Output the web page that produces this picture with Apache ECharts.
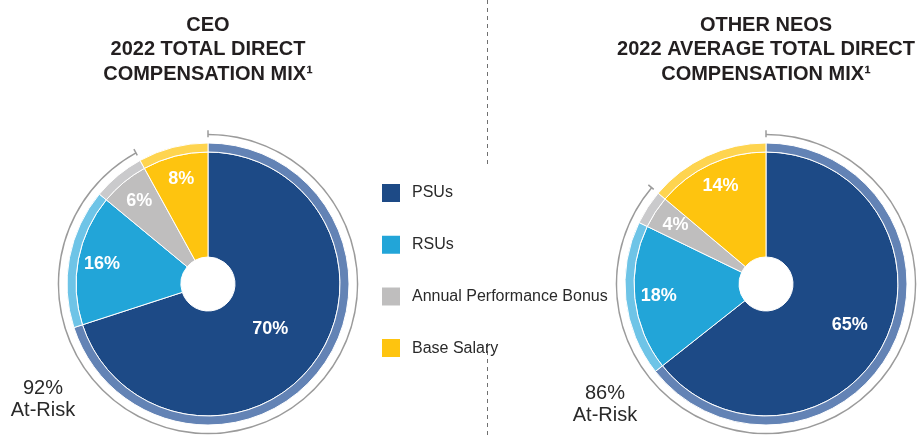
<!DOCTYPE html>
<html>
<head>
<meta charset="utf-8">
<script src="https://cdn.jsdelivr.net/npm/echarts@6/dist/echarts.min.js"></script>
<style>
html,body{margin:0;padding:0;background:#fff;}
#chart{width:920px;height:438px;}
</style>
</head>
<body>
<div id="chart"></div>
<script>
// ---- data ----
const categories = ['PSUs', 'RSUs', 'Annual Performance Bonus', 'Base Salary'];
const ceoValues = [70, 16, 6, 8];
const neoValues = [65, 18, 4, 14];
const atRiskCount = 3; // first three components are at-risk
const ceoTitle = ['CEO', '2022 TOTAL DIRECT', 'COMPENSATION MIX\u00B9'];
const neoTitle = ['OTHER NEOS', '2022 AVERAGE TOTAL DIRECT', 'COMPENSATION MIX\u00B9'];
const atRiskLabels = ['92%', '86%'];
const atRiskCaption = 'At-Risk';

// ---- styles ----
const darkColors = ['#1d4a86', '#22a5d8', '#bfbebe', '#fec40f'];
const lightColors = ['#6383b5', '#6ec4e7', '#cacacc', '#fed44f'];
const TITLE_COLOR = '#231f20';

function sum(a) { return a.reduce((s, v) => s + v, 0); }

function pieSeries(values, center, bigLabelRadius) {
  const main = {
    type: 'pie', center: center, radius: [27, 132], startAngle: 90, clockwise: true,
    silent: true, animation: false,
    itemStyle: { borderColor: '#ffffff', borderWidth: 1 },
    label: { show: false }, labelLine: { show: false },
    emphasis: { disabled: true },
    data: values.map((v, i) => ({ name: categories[i], value: v, itemStyle: { color: darkColors[i] } }))
  };
  const band = {
    type: 'pie', center: center, radius: [132, 141], startAngle: 90, clockwise: true,
    silent: true, animation: false,
    itemStyle: { borderColor: '#ffffff', borderWidth: 1 },
    label: { show: false }, labelLine: { show: false },
    emphasis: { disabled: true },
    data: values.map((v, i) => ({ name: categories[i], value: v, itemStyle: { color: lightColors[i] } }))
  };
  const lblStyle = { color: '#ffffff', fontSize: 18, fontWeight: 'bold', fontFamily: 'Liberation Sans, Arial, sans-serif',
    formatter: p => p.value + '%' };
  const bigLbl = {
    type: 'pie', center: center, radius: bigLabelRadius, startAngle: 90, clockwise: true,
    silent: true, animation: false, z: 5,
    itemStyle: { color: 'rgba(0,0,0,0)', borderWidth: 0 },
    labelLine: { show: false }, emphasis: { disabled: true },
    data: values.map((v, i) => ({ name: categories[i], value: v,
      itemStyle: { color: 'rgba(0,0,0,0)' },
      label: Object.assign({ show: i === 0, position: 'inside' }, lblStyle) }))
  };
  const smallLbl = {
    type: 'pie', center: center, radius: [78, 132], startAngle: 90, clockwise: true,
    silent: true, animation: false, z: 5,
    itemStyle: { color: 'rgba(0,0,0,0)', borderWidth: 0 },
    labelLine: { show: false }, emphasis: { disabled: true },
    data: values.map((v, i) => ({ name: categories[i], value: v,
      itemStyle: { color: 'rgba(0,0,0,0)' },
      label: Object.assign({ show: i !== 0, position: 'inside' }, lblStyle) }))
  };
  const frac = sum(values.slice(0, atRiskCount)) / sum(values);
  const arc = {
    type: 'gauge', center: center, radius: 150.3, startAngle: 90, endAngle: 90 - 360 * frac,
    clockwise: true, min: 0, max: 100, splitNumber: 1, silent: true, animation: false,
    axisLine: { show: true, roundCap: false, lineStyle: { width: 1.5, color: [[1, '#9b9b9b']] } },
    splitLine: { show: true, length: 7, distance: -5, lineStyle: { width: 1.5, color: '#9b9b9b' } },
    axisTick: { show: false }, axisLabel: { show: false },
    pointer: { show: false }, anchor: { show: false }, progress: { show: false },
    title: { show: false }, detail: { show: false },
    data: [{ value: 0, name: 'at-risk' }]
  };
  return [main, band, bigLbl, smallLbl, arc];
}

const chart = echarts.init(document.getElementById('chart'), null, { renderer: 'canvas' });

const titleText = { fontSize: 20, fontWeight: 'bold', color: TITLE_COLOR, lineHeight: 24.5,
  fontFamily: 'Liberation Sans, Arial, sans-serif' };
const riskText = { fontSize: 20, fontWeight: 'normal', color: '#2a2a2a', lineHeight: 21.5,
  fontFamily: 'Liberation Sans, Arial, sans-serif' };

const option = {
  backgroundColor: '#ffffff',
  animation: false,
  title: [
    { text: ceoTitle.join('\n'), left: 208, top: 13, textAlign: 'center', padding: 0, textStyle: titleText },
    { text: neoTitle.join('\n'), left: 766, top: 13, textAlign: 'center', padding: 0, textStyle: titleText },
    { text: atRiskLabels[0] + '\n' + atRiskCaption, left: 43, top: 378, textAlign: 'center', padding: 0, textStyle: riskText },
    { text: atRiskLabels[1] + '\n' + atRiskCaption, left: 605, top: 383, textAlign: 'center', padding: 0, textStyle: riskText }
  ],
  legend: {
    orient: 'vertical', left: 380, top: 182, padding: 0, itemGap: 29.7,
    itemWidth: 20, itemHeight: 20, icon: 'rect', selectedMode: false,
    data: categories,
    textStyle: { fontSize: 16, color: '#2a2a2a', padding: [0, 0, 0, 6], fontFamily: 'Liberation Sans, Arial, sans-serif' }
  },
  graphic: [
    { type: 'line', silent: true, shape: { x1: 487.5, y1: 0, x2: 487.5, y2: 165 },
      style: { stroke: '#707070', lineWidth: 1, lineDash: [4, 4] } },
    { type: 'line', silent: true, shape: { x1: 487.5, y1: 343, x2: 487.5, y2: 438 },
      style: { stroke: '#707070', lineWidth: 1, lineDash: [4, 4] } }
  ],
  series: [].concat(
    pieSeries(ceoValues, [208, 284], [27, 121]),
    pieSeries(neoValues, [766, 284], [48, 132])
  )
};
chart.setOption(option);
</script>
</body>
</html>
